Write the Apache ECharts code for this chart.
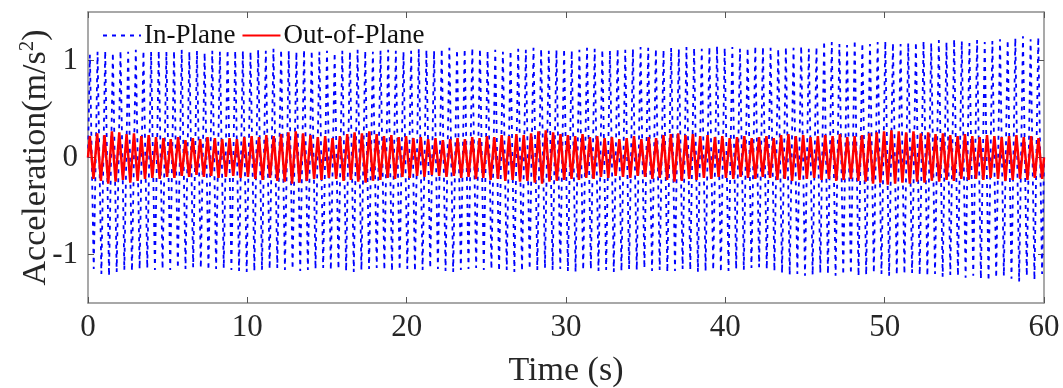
<!DOCTYPE html>
<html>
<head>
<meta charset="utf-8">
<script src="https://cdn.jsdelivr.net/npm/echarts@6/dist/echarts.min.js"></script>
<style>
  html, body { margin: 0; padding: 0; background: #fff; }
  #chart { width: 1063px; height: 388px; }
</style>
</head>
<body>
<div id="chart"></div>
<script>
// time span of the record (s)
const tEnd = 60

// Out-of-Plane: positive peaks and negative troughs, one per cycle
const redPeaks = [
  0.22, 0.25, 0.23, 0.27, 0.26, 0.24, 0.25, 0.22, 0.23, 0.21,
  0.20, 0.19, 0.21, 0.18, 0.20, 0.19, 0.21, 0.20, 0.19, 0.20,
  0.19, 0.21, 0.22, 0.21, 0.23, 0.22, 0.24, 0.26, 0.27, 0.25,
  0.23, 0.21, 0.22, 0.20, 0.22, 0.24, 0.26, 0.25, 0.27, 0.24,
  0.22, 0.23, 0.21, 0.22, 0.20, 0.21, 0.19, 0.20, 0.18, 0.19,
  0.20, 0.19, 0.21, 0.20, 0.22, 0.21, 0.23, 0.22, 0.24, 0.23,
  0.25, 0.27, 0.28, 0.26, 0.24, 0.23, 0.22, 0.24, 0.21, 0.22,
  0.20, 0.21, 0.19, 0.20, 0.22, 0.19, 0.21, 0.20, 0.23, 0.24,
  0.25, 0.23, 0.24, 0.22, 0.23, 0.21, 0.22, 0.20, 0.21, 0.22,
  0.20, 0.21, 0.22, 0.20, 0.23, 0.24, 0.22, 0.23, 0.21, 0.22,
  0.23, 0.22, 0.24, 0.21, 0.22, 0.23, 0.25, 0.26, 0.27, 0.28,
  0.27, 0.26, 0.27, 0.25, 0.26, 0.24, 0.25, 0.23, 0.22, 0.24,
  0.22, 0.21, 0.23, 0.22, 0.21, 0.22, 0.23, 0.21, 0.22, 0.20
]
const redTroughs = [
  -0.22, -0.24, -0.27, -0.25, -0.23, -0.26, -0.24, -0.22, -0.21, -0.22,
  -0.20, -0.21, -0.19, -0.20, -0.18, -0.20, -0.19, -0.21, -0.20, -0.19,
  -0.21, -0.20, -0.22, -0.23, -0.21, -0.24, -0.25, -0.27, -0.26, -0.24,
  -0.22, -0.23, -0.21, -0.22, -0.24, -0.23, -0.25, -0.26, -0.24, -0.23,
  -0.21, -0.22, -0.20, -0.21, -0.19, -0.20, -0.18, -0.19, -0.20, -0.19,
  -0.21, -0.20, -0.22, -0.21, -0.23, -0.22, -0.24, -0.23, -0.25, -0.24,
  -0.26, -0.27, -0.25, -0.24, -0.23, -0.22, -0.23, -0.21, -0.22, -0.20,
  -0.21, -0.19, -0.20, -0.21, -0.19, -0.20, -0.22, -0.21, -0.23, -0.25,
  -0.24, -0.22, -0.23, -0.21, -0.22, -0.20, -0.21, -0.22, -0.20, -0.21,
  -0.22, -0.20, -0.21, -0.23, -0.22, -0.24, -0.23, -0.22, -0.21, -0.23,
  -0.22, -0.24, -0.23, -0.22, -0.24, -0.25, -0.27, -0.26, -0.28, -0.27,
  -0.26, -0.27, -0.25, -0.26, -0.24, -0.25, -0.23, -0.24, -0.22, -0.23,
  -0.22, -0.23, -0.21, -0.22, -0.24, -0.23, -0.22, -0.23, -0.21, -0.22
]

// In-Plane: positive peaks and negative troughs, one per cycle
const bluePeaks = [
  1.06, 1.09, 1.10, 1.08, 1.10, 1.09, 1.11, 1.10, 1.09, 1.10,
  1.09, 1.10, 1.11, 1.09, 1.10, 1.08, 1.10, 1.09, 1.11, 1.10,
  1.10, 1.09, 1.11, 1.10, 1.12, 1.11, 1.10, 1.09, 1.11, 1.10,
  1.09, 1.10, 1.08, 1.10, 1.09, 1.11, 1.10, 1.09, 1.10, 1.11,
  1.10, 1.09, 1.10, 1.12, 1.11, 1.10, 1.12, 1.13, 1.11, 1.12,
  1.13, 1.12, 1.10, 1.11, 1.09, 1.10, 1.12, 1.11, 1.13, 1.12,
  1.10, 1.11, 1.12, 1.10, 1.11, 1.13, 1.12, 1.11, 1.10, 1.12,
  1.11, 1.12, 1.14, 1.13, 1.12, 1.11, 1.13, 1.12, 1.14, 1.13,
  1.12, 1.14, 1.15, 1.13, 1.14, 1.12, 1.13, 1.15, 1.14, 1.13,
  1.12, 1.14, 1.13, 1.15, 1.12, 1.14, 1.20, 1.19, 1.17, 1.16,
  1.21, 1.18, 1.17, 1.19, 1.20, 1.18, 1.17, 1.18, 1.19, 1.20,
  1.18, 1.21, 1.19, 1.22, 1.20, 1.18, 1.21, 1.19, 1.20, 1.22,
  1.21, 1.23, 1.25, 1.22, 1.24
]
const blueTroughs = [
  -1.15, -1.20, -1.22, -1.18, -1.16, -1.17, -1.15, -1.14, -1.16, -1.15,
  -1.16, -1.14, -1.15, -1.13, -1.14, -1.16, -1.15, -1.14, -1.16, -1.17,
  -1.18, -1.17, -1.16, -1.15, -1.14, -1.16, -1.15, -1.17, -1.16, -1.15,
  -1.14, -1.16, -1.15, -1.17, -1.18, -1.16, -1.15, -1.14, -1.16, -1.17,
  -1.16, -1.15, -1.17, -1.16, -1.14, -1.15, -1.17, -1.18, -1.16, -1.15,
  -1.14, -1.16, -1.15, -1.17, -1.16, -1.18, -1.17, -1.15, -1.16, -1.14,
  -1.16, -1.15, -1.17, -1.18, -1.16, -1.15, -1.17, -1.16, -1.18, -1.17,
  -1.15, -1.16, -1.14, -1.17, -1.16, -1.18, -1.17, -1.15, -1.16, -1.18,
  -1.17, -1.16, -1.18, -1.17, -1.15, -1.16, -1.14, -1.13, -1.15, -1.17,
  -1.19, -1.21, -1.20, -1.22, -1.21, -1.19, -1.20, -1.22, -1.21, -1.20,
  -1.22, -1.21, -1.19, -1.20, -1.22, -1.21, -1.20, -1.19, -1.21, -1.22,
  -1.20, -1.23, -1.21, -1.22, -1.24, -1.22, -1.25, -1.27, -1.24, -1.22,
  -1.25, -1.28, -1.22, -1.26, -1.20
]

const yTicks = [-1, 0, 1]

// peak at quarter cycle, trough at three quarters
function toSeries(peaks, troughs) {
  const n = peaks.length
  const period = tEnd / n
  const out = [[0, 0]]
  for (let i = 0; i < n; i++) {
    out.push([(i + 0.25) * period, peaks[i]])
    out.push([(i + 0.75) * period, troughs[i]])
  }
  out.push([tEnd, 0])
  return out
}

const font = "'Liberation Serif', 'Times New Roman', serif"
const axisGray = "#8c8c8c"
const textColor = "#262626"

const chart = echarts.init(document.getElementById("chart"), null, { renderer: "canvas" })

const option = {
  animation: false,
  grid: { left: 88, right: 19, top: 12, bottom: 85, containLabel: false, outerBoundsMode: "none" },
  legend: {
    data: ["In-Plane", "Out-of-Plane"],
    left: 97,
    top: 17,
    itemWidth: 38,
    itemHeight: 10,
    itemGap: 6,
    itemStyle: { opacity: 0 },
    textStyle: { fontFamily: font, fontSize: 27, color: "#111", padding: [0, 0, 0, -2] },
  },
  xAxis: [
    {
      type: "value",
      min: 0,
      max: 60,
      interval: 10,
      name: "Time (s)",
      nameLocation: "middle",
      nameGap: 51,
      nameMoveOverlap: false,
      nameTextStyle: { fontFamily: font, fontSize: 34, color: textColor },
      axisLine: { show: true, onZero: false, lineStyle: { color: axisGray, width: 1.5 } },
      axisTick: { show: true, inside: true, length: 6, lineStyle: { color: "#555" } },
      axisLabel: { fontFamily: font, fontSize: 31, color: textColor, margin: 9 },
      splitLine: { show: false },
    },
    {
      type: "value",
      position: "top",
      min: 0,
      max: 60,
      interval: 10,
      axisLine: { show: true, onZero: false, lineStyle: { color: axisGray, width: 1.5 } },
      axisTick: { show: true, inside: true, length: 6, lineStyle: { color: "#555" } },
      axisLabel: { show: false },
      splitLine: { show: false },
    },
  ],
  yAxis: [
    {
      type: "value",
      min: -1.5,
      max: 1.5,
      name: "{a|Acceleration(m/s}{s|2}{a|)}",
      nameLocation: "middle",
      nameRotate: 90,
      nameGap: 33,
      nameMoveOverlap: false,
      nameTextStyle: {
        rich: {
          a: { fontFamily: font, fontSize: 34, color: textColor, lineHeight: 38 },
          s: { fontFamily: font, fontSize: 21, color: textColor, verticalAlign: "top", lineHeight: 38 },
        },
      },
      axisLine: { show: true, onZero: false, lineStyle: { color: axisGray, width: 1.5 } },
      axisTick: { show: true, inside: true, length: 6, customValues: yTicks, lineStyle: { color: "#555" } },
      axisLabel: { fontFamily: font, fontSize: 31, color: textColor, margin: 10, customValues: yTicks },
      splitLine: { show: false },
    },
    {
      type: "value",
      position: "right",
      min: -1.5,
      max: 1.5,
      axisLine: { show: true, onZero: false, lineStyle: { color: axisGray, width: 1.5 } },
      axisTick: { show: true, inside: true, length: 6, customValues: yTicks, lineStyle: { color: "#555" } },
      axisLabel: { show: false },
      splitLine: { show: false },
    },
  ],
  series: [
    {
      name: "In-Plane",
      type: "line",
      symbol: "none",
      data: toSeries(bluePeaks, blueTroughs),
      lineStyle: { color: "#0000ff", width: 1.8, type: [4, 5] },
      itemStyle: { color: "#0000ff" },
      z: 2,
    },
    {
      name: "Out-of-Plane",
      type: "line",
      symbol: "none",
      data: toSeries(redPeaks, redTroughs),
      lineStyle: { color: "#ff0000", width: 2.5 },
      itemStyle: { color: "#ff0000" },
      z: 3,
    },
  ],
}

chart.setOption(option)
window.addEventListener("resize", () => chart.resize())
</script>
</body>
</html>
